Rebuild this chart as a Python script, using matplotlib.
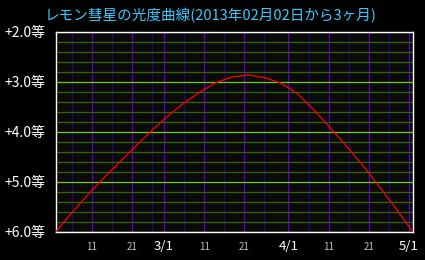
import numpy as np
import pandas as pd
import matplotlib
matplotlib.use("Agg")
import matplotlib.pyplot as plt

plt.rcParams['font.family'] = ['Noto Sans CJK JP', 'DejaVu Sans']

# Light curve: days since 2013-02-02 and magnitude.
start = pd.Timestamp('2013-02-02')
days = [0, 4, 8, 12, 16, 20, 24, 28, 32, 36, 40, 44, 48,
        52, 56, 60, 64, 68, 72, 76, 80, 84, 88, 89]
mags = [6.00, 5.62, 5.26, 4.92, 4.60, 4.28, 3.97, 3.68, 3.42, 3.20, 3.01, 2.90, 2.86,
        2.91, 3.02, 3.22, 3.53, 3.88, 4.24, 4.62, 5.03, 5.45, 5.89, 6.00]

major_dates = ['2013-02-11', '2013-02-21', '2013-03-01', '2013-03-11', '2013-03-21',
               '2013-04-01', '2013-04-11', '2013-04-21', '2013-05-01']
major_labels = ['11', '21', '3/1', '11', '21', '4/1', '11', '21', '5/1']
minor_dates = ['2013-02-06', '2013-02-16', '2013-02-26', '2013-03-06', '2013-03-16',
               '2013-03-26', '2013-04-06', '2013-04-16', '2013-04-26']
end_date = '2013-05-02'

y_major = [2.0, 3.0, 4.0, 5.0, 6.0]
y_labels = ['+2.0等', '+3.0等', '+4.0等', '+5.0等', '+6.0等']

title = 'レモン彗星の光度曲線(2013年02月02日から3ヶ月)'

def to_day(d):
    return (pd.Timestamp(d) - start).days

fig = plt.figure(figsize=(4.25, 2.6), dpi=100, facecolor='black')
ax = fig.add_axes([55.5 / 425, 1 - 232 / 260, 357.5 / 425, 200 / 260])
ax.set_facecolor('#0a0a0a')

ax.plot(days, mags, color='#ff0000', lw=0.9, zorder=5)

ax.set_xlim(0, to_day(end_date))
ax.set_ylim(6.0, 2.0)

ax.set_xticks([to_day(d) for d in major_dates], major_labels)
ax.set_xticks([to_day(d) for d in minor_dates], minor=True)
ax.set_yticks(y_major, y_labels)
ax.set_yticks(np.arange(2.2, 6.0, 0.2), minor=True)

ax.xaxis.grid(True, which='major', color='#5a00c8', lw=0.9)
ax.xaxis.grid(True, which='minor', color='#300070', lw=0.9)
ax.yaxis.grid(True, which='minor', color='#336600', lw=0.9)
ax.yaxis.grid(True, which='major', color='#70d000', lw=0.9)
ax.set_axisbelow(True)

ax.tick_params(which='both', length=0)
ax.tick_params(axis='y', pad=7, labelcolor='white', labelsize=10)
ax.tick_params(axis='x', pad=6)
for lab in ax.get_xticklabels():
    if '/' in lab.get_text():
        lab.set_color('white')
        lab.set_fontsize(9.5)
    else:
        lab.set_color('#c0c0c0')
        lab.set_fontsize(7)
        lab.set_y(-0.01)

for sp in ax.spines.values():
    sp.set_color('white')
    sp.set_linewidth(1.0)

fig.text(211 / 425, 1 - 16 / 260, title, color='#33ccff', fontsize=10.5,
         ha='center', va='center')

fig.savefig('out.png', dpi=100, facecolor='black')
